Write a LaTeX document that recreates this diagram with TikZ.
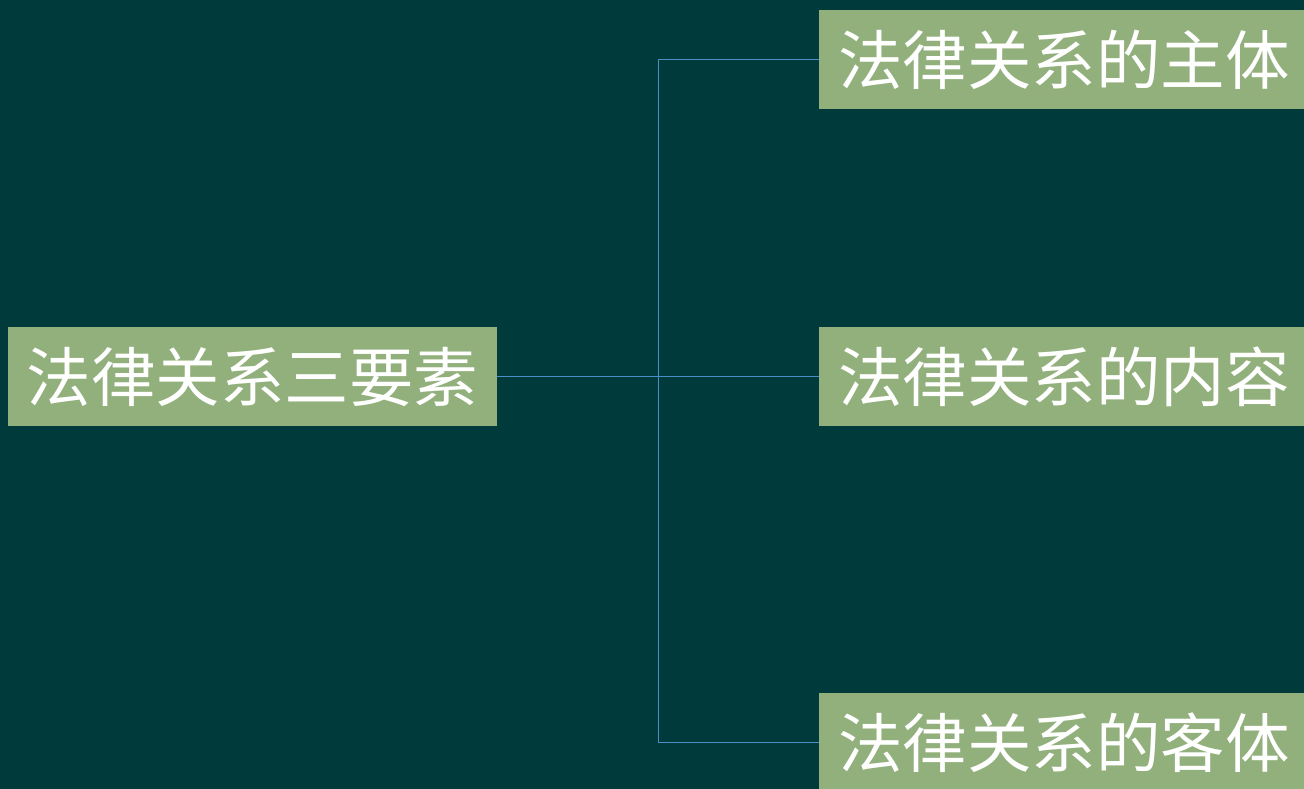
\documentclass[tikz,border=0pt]{standalone}
\usepackage{fontspec}
\newfontfamily\cjk{Noto Sans CJK SC}
\definecolor{bgc}{RGB}{0,58,58}
\definecolor{boxc}{RGB}{146,176,124}
\definecolor{linec}{RGB}{74,144,200}
\tikzset{
  tbox/.style={fill=boxc, draw=none, text=white, font=\cjk\fontsize{64.5}{70}\selectfont,
    minimum height=99pt, inner sep=0pt, anchor=center},
  conn/.style={draw=linec, line width=1pt}
}
\begin{document}
\begin{tikzpicture}[x=1pt,y=-1pt]
\useasboundingbox (0,0) rectangle (1304,789);
\clip (0,0) rectangle (1304,789);
\fill[bgc] (0,0) rectangle (1304,789);
\node[tbox, minimum width=489pt] (root) at (252.5,376.5) {法律关系三要素};
\node[tbox, minimum width=490pt] (top) at (1064,59.5) {法律关系的主体};
\node[tbox, minimum width=490pt] (mid) at (1064,376.5) {法律关系的内容};
\node[tbox, minimum width=490pt] (bot) at (1064,742.5) {法律关系的客体};
\coordinate (j) at (658,376.5);
\draw[conn] (root.east) -- (mid.west);
\draw[conn] (j) |- (top.west);
\draw[conn] (j) |- (bot.west);
\end{tikzpicture}
\end{document}
